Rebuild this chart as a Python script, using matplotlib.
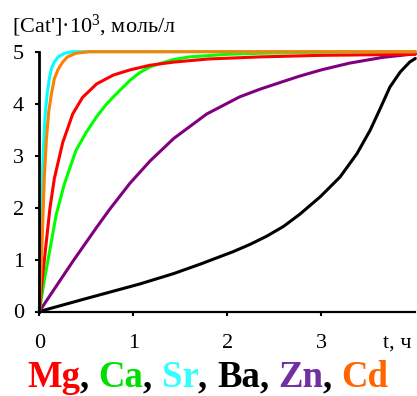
import matplotlib
matplotlib.use("Agg")
import matplotlib.pyplot as plt

# time, h  /  [Cat']*10^3, mol/l
t_mg = [0, 0.03, 0.071, 0.114, 0.16, 0.249, 0.355, 0.46, 0.61, 0.787, 0.965, 1.18, 1.43, 1.8, 2.35, 3.0, 4.0]
c_mg = [0, 0.6, 1.28, 2.0, 2.56, 3.25, 3.8, 4.12, 4.38, 4.55, 4.65, 4.74, 4.80, 4.86, 4.90, 4.93, 4.95]

t_ca = [0, 0.053, 0.114, 0.178, 0.266, 0.39, 0.5, 0.61, 0.71, 0.787, 0.965, 1.07, 1.18, 1.28, 1.43, 1.6, 2.0, 2.35, 3.0, 4.0]
c_ca = [0, 0.6, 1.2, 1.85, 2.45, 3.1, 3.45, 3.75, 3.98, 4.13, 4.45, 4.6, 4.71, 4.77, 4.85, 4.90, 4.95, 4.97, 4.99, 5.0]

t_sr = [0, 0.015, 0.029, 0.045, 0.064, 0.085, 0.106, 0.13, 0.16, 0.2, 0.27, 0.355, 4.0]
c_sr = [0, 1.38, 2.4, 3.2, 3.84, 4.2, 4.48, 4.68, 4.8, 4.9, 4.97, 5.0, 5.0]

t_ba = [0, 0.5, 1.07, 1.43, 1.71, 2.06, 2.24, 2.42, 2.6, 2.77, 2.99, 3.2, 3.38, 3.52, 3.62, 3.73, 3.84, 3.94, 4.0]
c_ba = [0, 0.25, 0.53, 0.73, 0.91, 1.15, 1.29, 1.45, 1.64, 1.87, 2.21, 2.59, 3.04, 3.49, 3.88, 4.32, 4.61, 4.80, 4.87]

t_zn = [0, 0.355, 0.61, 0.75, 0.965, 1.18, 1.43, 1.78, 2.13, 2.35, 2.60, 2.77, 3.0, 3.3, 3.65, 4.0]
c_zn = [0, 0.96, 1.62, 1.97, 2.47, 2.9, 3.33, 3.8, 4.13, 4.28, 4.43, 4.53, 4.65, 4.78, 4.89, 4.96]

t_cd = [0, 0.025, 0.053, 0.075, 0.1, 0.13, 0.16, 0.2, 0.249, 0.3, 0.39, 0.53, 4.0]
c_cd = [0, 1.1, 2.56, 3.3, 3.84, 4.2, 4.48, 4.66, 4.8, 4.9, 4.97, 5.0, 5.0]

names = ["Mg", "Ca", "Sr", "Ba", "Zn", "Cd"]
line_colors = ["#FF0000", "#00FF00", "#00FFFF", "#000000", "#800080", "#FF8000"]
text_colors = ["#FF0000", "#00E000", "#33FFFF", "#000000", "#7030A0", "#FF6600"]

plt.rcParams["font.family"] = ["Liberation Serif", "DejaVu Serif"]
plt.rcParams["mathtext.fontset"] = "custom"
plt.rcParams["mathtext.rm"] = "Liberation Serif"
plt.rcParams["mathtext.it"] = "Liberation Serif:italic"

fig = plt.figure(figsize=(4.17, 3.96), dpi=100)
ax = fig.add_axes([39.3 / 417, 1 - 311.5 / 396, (415.3 - 39.3) / 417, (311.5 - 51.7) / 396])

series = [(t_mg, c_mg), (t_ca, c_ca), (t_sr, c_sr), (t_ba, c_ba), (t_zn, c_zn), (t_cd, c_cd)]
# slow curves below, fast ones on top
for i in [3, 4, 1, 0, 2, 5]:
    t, c = series[i]
    ax.plot(t, c, color=line_colors[i], lw=2.2, solid_capstyle="round",
            solid_joinstyle="round", clip_on=False)

ax.set_xlim(0, 4)
ax.set_ylim(0, 5)
ax.set_xticks([0, 1, 2, 3])
ax.set_yticks([0, 1, 2, 3, 4, 5])
for s in ["top", "right"]:
    ax.spines[s].set_visible(False)
ax.spines["left"].set_linewidth(2)
ax.spines["bottom"].set_linewidth(1.6)
ax.tick_params(axis="y", direction="out", length=3, width=1.5, pad=8, labelsize=16)
ax.tick_params(axis="x", direction="out", length=3, width=1.5, pad=13, labelsize=16)

fig.text(12 / 417, 1 - 32 / 396, r"[Cat']·$10^3$, моль/л", fontsize=16, va="baseline")
fig.text(383 / 417, 1 - 348 / 396, "t, ч", fontsize=16, va="baseline")

# coloured list of cations at the bottom
fs = 26.5
prev = None
for i, nm in enumerate(names):
    if prev is None:
        prev = fig.text(27 / 417, 1 - 387 / 396, nm, fontsize=fs, fontweight="bold",
                        color=text_colors[i], va="baseline")
    else:
        prev = ax.annotate(nm, xy=(1, 0), xycoords=prev, xytext=(0, 0),
                           textcoords="offset points", fontsize=fs, fontweight="bold",
                           color=text_colors[i], va="bottom", annotation_clip=False)
    if i < len(names) - 1:
        prev = ax.annotate(", ", xy=(1, 0), xycoords=prev, xytext=(0, 0),
                           textcoords="offset points", fontsize=fs, fontweight="bold",
                           color="black", va="bottom", annotation_clip=False)

fig.savefig("out.png", dpi=100)
